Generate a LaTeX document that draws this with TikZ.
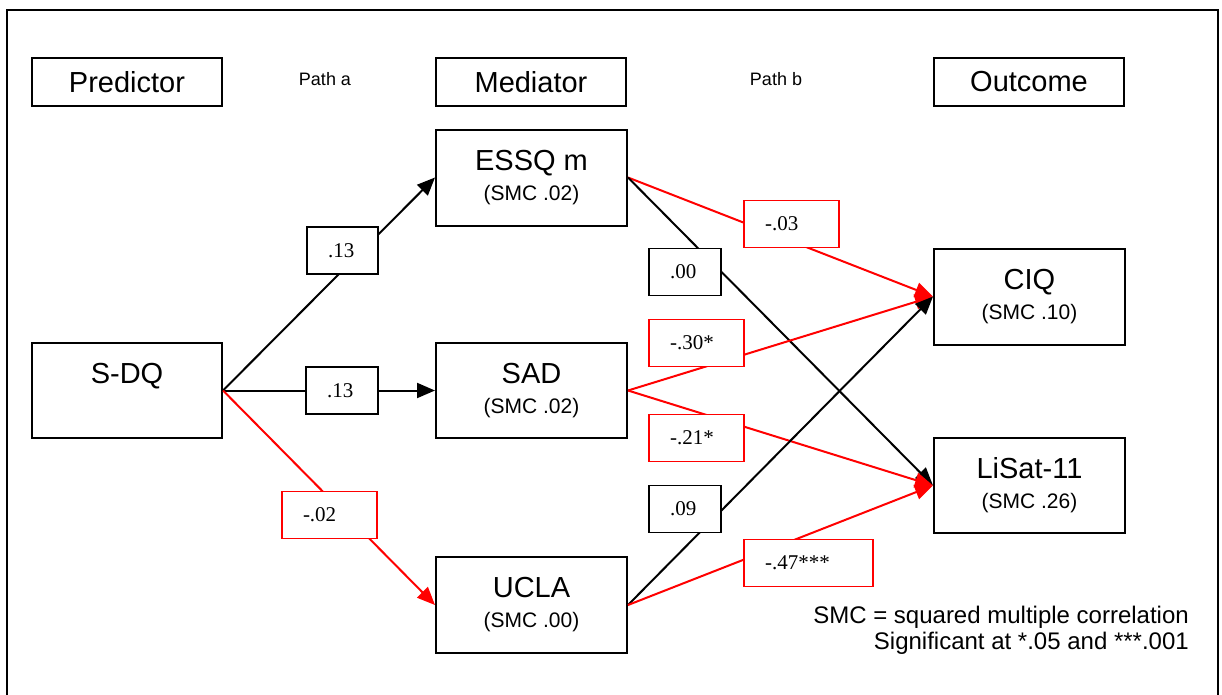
\documentclass[tikz,border=0pt]{standalone}
\usepackage{fontspec}
\setmainfont{Liberation Sans}
\newfontfamily\serifnum{Liberation Serif}
\usetikzlibrary{arrows.meta}
\begin{document}
\begin{tikzpicture}[x=1pt,y=-1pt,
  varbox/.style={draw,line width=2pt,minimum width=191pt,minimum height=96pt,inner sep=0pt,
    align=center,font=\fontsize{21}{30}\selectfont},
  headbox/.style={draw,line width=2pt,minimum width=190pt,minimum height=48pt,inner sep=0pt,
    font=\fontsize{29}{30}\selectfont},
  pathtext/.style={font=\fontsize{18}{20}\selectfont},
  coef/.style={draw,fill=white,line width=1.8pt,minimum height=47pt,inner ysep=0pt,inner xsep=21pt,
    align=left,font=\serifnum\fontsize{21}{22}\selectfont},
  neg/.style={coef,draw=red},
  link/.style={line width=2pt,-{Triangle[length=18pt,width=15pt]}},
  neglink/.style={link,draw=red,-{Triangle[length=18pt,width=15pt,fill=red]}}
]
\clip (0,0) rectangle (1222,694);
\fill[white] (0,0) rectangle (1222,694);
% outer frame
\draw[line width=2.2pt] (7,10) rectangle (1218,720);

% column headings
\node[headbox] (hpred) at (127,82) {\raisebox{-3pt}{Predictor}};
\node[headbox] (hmed) at (531,82) {\raisebox{-3pt}{Mediator}};
\node[headbox] (hout) at (1029,82) {\raisebox{-3pt}{Outcome}};
\node[pathtext] (patha) at (325,79) {Path a};
\node[pathtext] (pathb) at (776,79) {Path b};

% variables
\node[varbox,minimum width=190pt,minimum height=95pt] (sdq) at (127,390.5)
  {{\fontsize{29}{30}\selectfont S-DQ}\\\phantom{(SMC .00)}};
\node[varbox] (essq) at (531.5,177.5) {{\fontsize{29}{30}\selectfont ESSQ m}\\(SMC .02)};
\node[varbox,minimum height=95pt] (sad) at (531.5,390.5) {{\fontsize{29}{30}\selectfont SAD}\\(SMC .02)};
\node[varbox] (ucla) at (531.5,605) {{\fontsize{29}{30}\selectfont UCLA}\\(SMC .00)};
\node[varbox] (ciq) at (1029.5,296.5) {{\fontsize{29}{30}\selectfont CIQ}\\(SMC .10)};
\node[varbox,minimum height=95pt] (lisat) at (1029.5,485.5) {{\fontsize{29}{30}\selectfont LiSat-11}\\(SMC .26)};

% path a
\draw[link] (sdq.east) -- (essq.west);
\draw[link] (sdq.east) -- (sad.west);
\draw[neglink] (sdq.east) -- (ucla.west);
% path b
\draw[neglink] (essq.east) -- (ciq.west);
\draw[link] (essq.east) -- (lisat.west);
\draw[neglink] (sad.east) -- (ciq.west);
\draw[neglink] (sad.east) -- (lisat.west);
\draw[link] (ucla.east) -- (ciq.west);
\draw[neglink] (ucla.east) -- (lisat.west);

% coefficients
\node[coef,text width=29pt] (ca1) at (342.5,250.5) {.13};
\node[coef,text width=30pt] (ca2) at (342,390.5) {.13};
\node[neg,text width=53pt] (ca3) at (329.5,515) {-.02};
\node[neg,text width=53pt] (cb1) at (791.5,224) {-.03};
\node[coef,text width=30pt] (cb2) at (685,272) {.00};
\node[neg,text width=53pt] (cb3) at (696.5,343) {-.30*};
\node[neg,text width=53pt] (cb4) at (696.5,438) {-.21*};
\node[coef,text width=30pt] (cb5) at (685,509) {.09};
\node[neg,text width=87pt] (cb6) at (808.5,563) {-.47***};

% note
\node[anchor=east,align=right,inner sep=0pt,font=\fontsize{24}{26}\selectfont] (note) at (1189,630)
  {SMC = squared multiple correlation\\Significant at *.05 and ***.001};
\end{tikzpicture}
\end{document}
